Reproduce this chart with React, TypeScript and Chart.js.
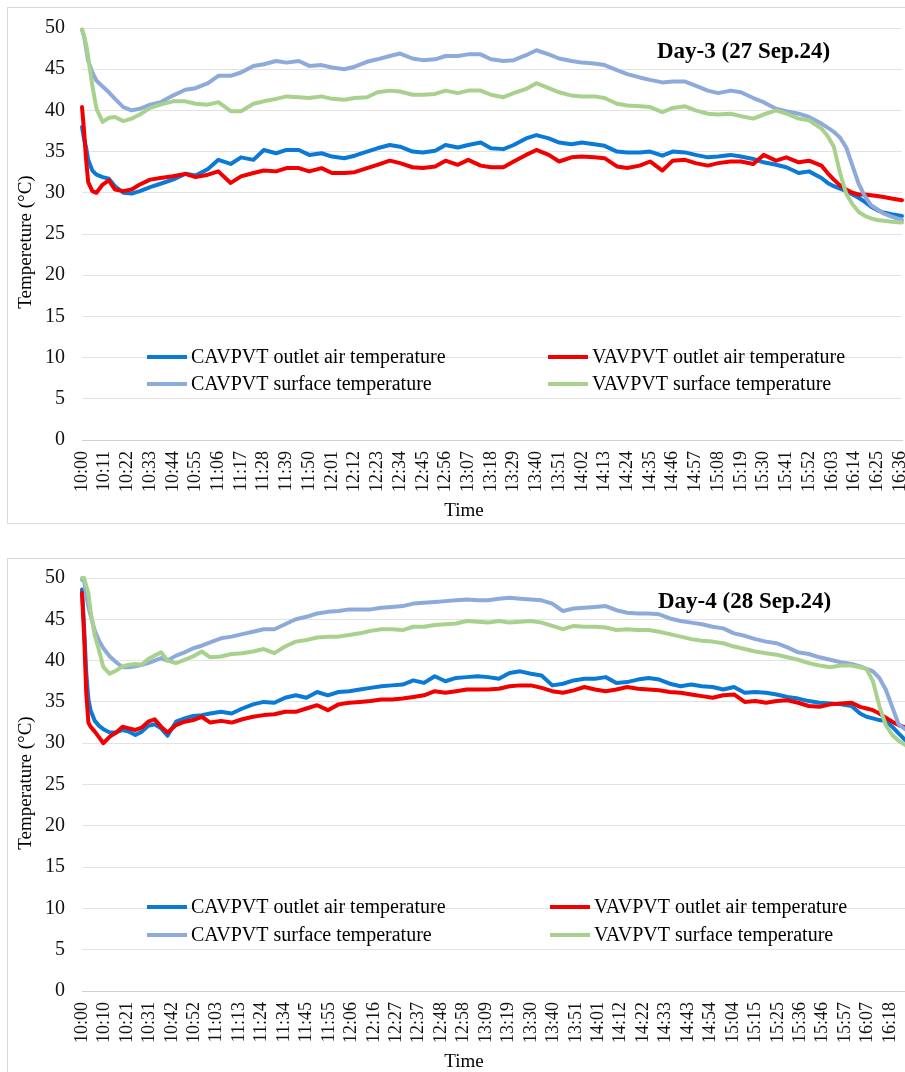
import React, { useEffect, useRef } from "react";
import { Chart, registerables } from "chart.js";

Chart.register(...registerables);

const FONT = '"Liberation Serif", "Times New Roman", Times, serif';

const seriesLabels = [
  "CAVPVT outlet air temperature",
  "VAVPVT outlet air temperature",
  "CAVPVT surface temperature",
  "VAVPVT surface temperature",
];
const seriesColors = ["#0a7ad6", "#f20000", "#8eaadb", "#a9d18e"];

// ---------- Day-3 (27 Sep.24) ----------
const day3Minutes = [
  0, 1, 2, 3, 5, 7, 10, 13, 16, 20,
  24, 28, 33, 38, 44, 50, 55, 61, 66, 72,
  77, 83, 88, 94, 99, 105, 110, 116, 121, 127,
  132, 138, 143, 149, 154, 160, 165, 171, 176, 182,
  187, 193, 198, 204, 209, 215, 220, 226, 231, 237,
  242, 248, 253, 259, 264, 270, 275, 281, 286, 292,
  297, 303, 308, 314, 319, 325, 330, 336, 341, 347,
  352, 358, 361, 364, 367, 370, 373, 376, 379, 382,
  385, 388, 392, 397,
];
const day3CavOutlet = [
  38.0, 36.5, 35.5, 34.0, 32.7, 32.2, 31.9, 31.7, 30.8, 30.0,
  29.9, 30.2, 30.7, 31.1, 31.6, 32.3, 32.1, 32.9, 34.0, 33.5,
  34.3, 34.0, 35.2, 34.8, 35.2, 35.2, 34.6, 34.8, 34.4, 34.2,
  34.5, 35.0, 35.4, 35.8, 35.6, 35.0, 34.9, 35.1, 35.8, 35.5,
  35.8, 36.1, 35.4, 35.3, 35.8, 36.6, 37.0, 36.6, 36.1, 35.9,
  36.1, 35.9, 35.7, 35.0, 34.9, 34.9, 35.0, 34.5, 35.0, 34.9,
  34.6, 34.3, 34.4, 34.6, 34.4, 34.1, 33.7, 33.4, 33.1, 32.4,
  32.6, 31.8, 31.2, 30.8, 30.5, 30.2, 29.8, 29.4, 28.9, 28.3,
  27.9, 27.6, 27.4, 27.2,
];
const day3VavOutlet = [
  40.4, 37.5, 34.0, 31.3, 30.2, 30.0, 31.0, 31.5, 30.4, 30.2,
  30.4, 31.0, 31.6, 31.8, 32.0, 32.3, 31.9, 32.2, 32.6, 31.2,
  32.0, 32.4, 32.7, 32.6, 33.0, 33.0, 32.6, 33.0, 32.4, 32.4,
  32.5, 33.0, 33.4, 33.9, 33.6, 33.1, 33.0, 33.2, 33.9, 33.4,
  34.0, 33.3, 33.1, 33.1, 33.8, 34.6, 35.2, 34.6, 33.8, 34.3,
  34.4, 34.3, 34.2, 33.2, 33.0, 33.3, 33.8, 32.7, 33.9, 34.0,
  33.6, 33.3, 33.6, 33.8, 33.8, 33.5, 34.6, 33.9, 34.3, 33.7,
  33.9, 33.3, 32.4, 31.6, 30.9, 30.4, 30.0, 29.8, 29.8, 29.7,
  29.6, 29.5, 29.3, 29.1,
];
const day3CavSurface = [
  49.8, 49.0, 47.5, 46.0, 44.6, 43.6, 42.9, 42.2, 41.4, 40.4,
  40.0, 40.2, 40.7, 41.0, 41.8, 42.5, 42.7, 43.3, 44.2, 44.2,
  44.6, 45.4, 45.6, 46.0, 45.8, 46.0, 45.4, 45.5, 45.2, 45.0,
  45.3, 45.9, 46.2, 46.6, 46.9, 46.3, 46.1, 46.2, 46.6, 46.6,
  46.8, 46.8, 46.2, 46.0, 46.1, 46.7, 47.3, 46.8, 46.3, 46.0,
  45.8, 45.7, 45.5, 44.9, 44.4, 44.0, 43.7, 43.4, 43.5, 43.5,
  43.0, 42.4, 42.1, 42.4, 42.2, 41.5, 41.0, 40.2, 39.9, 39.6,
  39.2, 38.4, 37.9, 37.4, 36.7, 35.5, 33.3, 31.1, 29.6, 28.5,
  28.0, 27.5, 27.1, 26.7,
];
const day3VavSurface = [
  49.8, 49.0, 48.0, 46.5, 43.0, 40.2, 38.6, 39.1, 39.2, 38.7,
  39.0, 39.5, 40.3, 40.7, 41.1, 41.1, 40.8, 40.7, 41.0, 39.9,
  39.9, 40.8, 41.1, 41.4, 41.7, 41.6, 41.5, 41.7, 41.4, 41.3,
  41.5, 41.6, 42.2, 42.4, 42.3, 41.9, 41.9, 42.0, 42.4, 42.1,
  42.4, 42.4, 41.9, 41.6, 42.1, 42.6, 43.3, 42.7, 42.2, 41.8,
  41.7, 41.7, 41.5, 40.8, 40.6, 40.5, 40.4, 39.8, 40.3, 40.5,
  40.0, 39.6, 39.5, 39.6, 39.3, 39.0, 39.5, 40.0, 39.6, 39.0,
  38.8, 37.8, 36.9, 35.6, 32.4, 29.9, 28.6, 27.7, 27.2, 26.9,
  26.7, 26.6, 26.5, 26.4,
];
const day3TickLabels = [
  "10:00", "10:11", "10:22", "10:33", "10:44", "10:55", "11:06", "11:17", "11:28", "11:39",
  "11:50", "12:01", "12:12", "12:23", "12:34", "12:45", "12:56", "13:07", "13:18", "13:29",
  "13:40", "13:51", "14:02", "14:13", "14:24", "14:35", "14:46", "14:57", "15:08", "15:19",
  "15:30", "15:41", "15:52", "16:03", "16:14", "16:25", "16:36",
];

// ---------- Day-4 (28 Sep.24) ----------
const day4Minutes = [
  0, 1, 2, 3, 4, 6, 8, 10, 13, 16,
  19, 22, 25, 28, 31, 34, 37, 40, 44, 48,
  52, 56, 60, 65, 70, 75, 80, 85, 90, 95,
  100, 105, 110, 115, 120, 125, 130, 135, 140, 145,
  150, 155, 160, 165, 170, 175, 180, 185, 190, 195,
  200, 205, 210, 215, 220, 225, 230, 235, 240, 245,
  250, 255, 260, 265, 270, 275, 280, 285, 290, 295,
  300, 305, 310, 315, 320, 325, 330, 335, 340, 345,
  350, 355, 360, 364, 367, 370, 373, 376, 379, 382,
  385,
];
const day4CavOutlet = [
  48.6, 44.0, 38.5, 35.3, 34.0, 32.7, 32.1, 31.7, 31.3, 31.3,
  31.6, 31.4, 31.0, 31.4, 32.1, 32.3, 31.8, 30.9, 32.6, 33.0,
  33.3, 33.4, 33.6, 33.8, 33.6, 34.2, 34.7, 35.0, 34.9, 35.5,
  35.8, 35.5, 36.2, 35.8, 36.2, 36.3, 36.5, 36.7, 36.9, 37.0,
  37.1, 37.6, 37.3, 38.1, 37.5, 37.9, 38.0, 38.1, 38.0, 37.8,
  38.5, 38.7, 38.4, 38.2, 37.0, 37.2, 37.6, 37.8, 37.8, 38.0,
  37.3, 37.4, 37.7, 37.9, 37.7, 37.2, 36.9, 37.1, 36.9, 36.8,
  36.5, 36.8, 36.1, 36.2, 36.1, 35.9, 35.6, 35.4, 35.1, 34.9,
  34.8, 34.7, 34.5, 33.6, 33.2, 33.0, 32.8, 32.7, 32.0, 31.2,
  30.4,
];
const day4VavOutlet = [
  48.2, 43.0, 36.0, 32.5, 32.0, 31.4, 30.7, 30.0, 30.8, 31.3,
  32.0, 31.8, 31.6, 31.9, 32.6, 32.9, 32.0, 31.3, 32.2, 32.6,
  32.8, 33.2, 32.5, 32.7, 32.5, 32.9, 33.2, 33.4, 33.5, 33.8,
  33.8, 34.2, 34.6, 34.0, 34.7, 34.9, 35.0, 35.1, 35.3, 35.3,
  35.4, 35.6, 35.8, 36.3, 36.1, 36.3, 36.5, 36.5, 36.5, 36.6,
  36.9, 37.0, 37.0, 36.7, 36.3, 36.1, 36.4, 36.8, 36.5, 36.3,
  36.5, 36.8, 36.6, 36.5, 36.4, 36.2, 36.1, 35.9, 35.7, 35.5,
  35.8, 35.9, 35.0, 35.1, 34.9, 35.1, 35.2, 34.9, 34.5, 34.4,
  34.7, 34.8, 34.9, 34.4, 34.2, 34.0, 33.6, 33.1, 32.6, 32.2,
  31.9,
];
const day4CavSurface = [
  49.8, 49.6, 48.0, 46.5, 45.5, 43.6, 42.4, 41.5, 40.5, 39.8,
  39.2, 39.2, 39.3, 39.5, 39.7, 40.0, 40.3, 40.0, 40.6, 41.0,
  41.5, 41.8, 42.2, 42.7, 42.9, 43.2, 43.5, 43.8, 43.8, 44.4,
  45.0, 45.3, 45.7, 45.9, 46.0, 46.2, 46.2, 46.2, 46.4, 46.5,
  46.6, 46.9, 47.0, 47.1, 47.2, 47.3, 47.4, 47.3, 47.3, 47.5,
  47.6, 47.5, 47.4, 47.3, 46.9, 46.0, 46.3, 46.4, 46.5, 46.6,
  46.1, 45.8, 45.7, 45.7, 45.6, 45.1, 44.8, 44.6, 44.4, 44.1,
  43.9, 43.3, 43.0, 42.6, 42.3, 42.1, 41.6, 41.0, 40.8, 40.4,
  40.1, 39.8, 39.6, 39.3, 39.0, 38.7, 37.9, 36.5, 34.4, 32.3,
  31.7,
];
const day4VavSurface = [
  50.0, 50.0, 49.0, 48.2, 46.0, 43.0, 41.2, 39.2, 38.4, 38.8,
  39.3, 39.5, 39.6, 39.5, 40.2, 40.6, 41.0, 40.0, 39.7, 40.1,
  40.5, 41.1, 40.4, 40.5, 40.8, 40.9, 41.1, 41.4, 40.9, 41.7,
  42.3, 42.5, 42.8, 42.9, 42.9, 43.1, 43.3, 43.6, 43.8, 43.8,
  43.7, 44.1, 44.1, 44.3, 44.4, 44.5, 44.8, 44.7, 44.6, 44.8,
  44.6, 44.7, 44.8, 44.6, 44.2, 43.8, 44.2, 44.1, 44.1, 44.0,
  43.7, 43.8, 43.7, 43.7, 43.5, 43.2, 42.9, 42.6, 42.4, 42.3,
  42.1, 41.7, 41.4, 41.1, 40.9, 40.7, 40.4, 40.1, 39.7, 39.4,
  39.2, 39.4, 39.4, 39.2, 39.0, 37.5, 34.5, 32.2, 31.0, 30.3,
  29.8,
];
const day4TickLabels = [
  "10:00", "10:10", "10:21", "10:31", "10:42", "10:52", "11:03", "11:13", "11:24", "11:34",
  "11:45", "11:55", "12:06", "12:16", "12:27", "12:37", "12:48", "12:58", "13:09", "13:19",
  "13:30", "13:40", "13:51", "14:01", "14:12", "14:22", "14:33", "14:43", "14:54", "15:04",
  "15:15", "15:25", "15:36", "15:46", "15:57", "16:07", "16:18",
];

type PanelProps = {
  minutes: number[];
  series: number[][];
  tickLabels: string[];
  stepSize: number;
  xMax: number;
  title: string;
  yTitle: string;
  boxTop: number;
  boxHeight: number;
  canvasTop: number;
  canvasHeight: number;
  padTop: number;
  padRight: number;
  xScaleHeight: number;
  titlePos: [number, number];
  yTitleY: number;
  timePos: [number, number];
  legendRows: [number, number];
  legendCols: [number, number];
};

function Panel(p: PanelProps) {
  const ref = useRef<HTMLCanvasElement>(null);

  useEffect(() => {
    const canvas = ref.current;
    if (!canvas) return;

    const datasets = p.series.map((vals, i) => ({
      label: seriesLabels[i],
      data: vals.map((v, k) => ({ x: p.minutes[k], y: v })),
      borderColor: seriesColors[i],
      backgroundColor: seriesColors[i],
      borderWidth: 4,
      pointRadius: 0,
      tension: 0,
      fill: false,
      order: 3 - i,
      clip: false as any,
      borderJoinStyle: "round" as const,
      borderCapStyle: "round" as const,
    }));

    const overlay = {
      id: "overlay",
      afterDraw(chart: any) {
        const ctx = chart.ctx as CanvasRenderingContext2D;
        ctx.save();
        ctx.fillStyle = "#000";
        ctx.textBaseline = "middle";

        // Day title
        ctx.font = `bold 23px ${FONT}`;
        ctx.textAlign = "left";
        ctx.fillText(p.title, p.titlePos[0], p.titlePos[1]);

        // Legend (2 x 2)
        ctx.font = `20px ${FONT}`;
        for (let i = 0; i < 4; i++) {
          const row = i < 2 ? 0 : 1;
          const col = i % 2;
          const lx = p.legendCols[col];
          const ly = p.legendRows[row];
          ctx.strokeStyle = seriesColors[i];
          ctx.lineWidth = 4;
          ctx.lineCap = "butt";
          ctx.beginPath();
          ctx.moveTo(lx, ly);
          ctx.lineTo(lx + 40, ly);
          ctx.stroke();
          ctx.fillText(seriesLabels[i], lx + 44, ly + 1);
        }

        // X axis title
        ctx.font = `19px ${FONT}`;
        ctx.textAlign = "center";
        ctx.fillText("Time", p.timePos[0], p.timePos[1]);

        // Y axis title
        ctx.translate(18, p.yTitleY);
        ctx.rotate(-Math.PI / 2);
        ctx.fillText(p.yTitle, 0, 0);
        ctx.restore();
      },
    };

    const chart = new Chart(canvas, {
      type: "line",
      data: { datasets },
      options: {
        responsive: false,
        animation: false,
        devicePixelRatio: 1,
        events: [],
        layout: { padding: { top: p.padTop, right: p.padRight, left: 0, bottom: 0 } },
        plugins: {
          legend: { display: false },
          title: { display: false },
          tooltip: { enabled: false },
        },
        scales: {
          x: {
            type: "linear",
            min: 0,
            max: p.xMax,
            afterFit: (s: any) => {
              s.height = p.xScaleHeight;
              s.paddingLeft = 0;
              s.paddingRight = 0;
            },
            grid: { display: false, drawTicks: false },
            border: { display: true, color: "#d0d0d0", width: 1 },
            ticks: {
              stepSize: p.stepSize,
              includeBounds: false,
              autoSkip: false,
              maxRotation: 90,
              minRotation: 90,
              padding: 11,
              color: "#111",
              font: { family: FONT, size: 18 },
              callback: (_v: any, i: number) => p.tickLabels[i] ?? "",
            },
          },
          y: {
            min: 0,
            max: 50,
            afterFit: (s: any) => {
              s.width = 74;
              s.paddingTop = 0;
              s.paddingBottom = 0;
            },
            grid: { color: "#e3e3e3", drawTicks: false, lineWidth: 1 },
            border: { display: false },
            ticks: {
              stepSize: 5,
              padding: 17,
              color: "#111",
              font: { family: FONT, size: 20 },
            },
          },
        },
      } as any,
      plugins: [overlay],
    });

    return () => chart.destroy();
  }, []);

  return (
    <>
      <div
        style={{
          position: "absolute",
          left: 7,
          top: p.boxTop,
          width: 1000,
          height: p.boxHeight,
          border: "1px solid #d9d9d9",
          boxSizing: "border-box",
          background: "#fff",
        }}
      />
      <canvas
        ref={ref}
        width={897}
        height={p.canvasHeight}
        style={{
          position: "absolute",
          left: 8,
          top: p.canvasTop,
          width: "897px",
          height: `${p.canvasHeight}px`,
        }}
      />
    </>
  );
}

export default function App() {
  return (
    <div
      style={{
        position: "absolute",
        left: 0,
        top: 0,
        width: 905,
        height: 1072,
        overflow: "hidden",
        background: "#fff",
      }}
    >
      <Panel
        minutes={day3Minutes}
        series={[day3CavOutlet, day3VavOutlet, day3CavSurface, day3VavSurface]}
        tickLabels={day3TickLabels}
        stepSize={11}
        xMax={397}
        title="Day-3 (27 Sep.24)"
        yTitle="Tempereture (°C)"
        boxTop={7}
        boxHeight={517}
        canvasTop={8}
        canvasHeight={515}
        padTop={20}
        padRight={3}
        xScaleHeight={83}
        titlePos={[649, 44]}
        yTitleY={234}
        timePos={[456, 503]}
        legendRows={[349, 376]}
        legendCols={[139, 540]}
      />
      <Panel
        minutes={day4Minutes}
        series={[day4CavOutlet, day4VavOutlet, day4CavSurface, day4VavSurface]}
        tickLabels={day4TickLabels}
        stepSize={10.5}
        xMax={385}
        title="Day-4 (28 Sep.24)"
        yTitle="Temperature (°C)"
        boxTop={558}
        boxHeight={600}
        canvasTop={559}
        canvasHeight={513}
        padTop={19}
        padRight={0}
        xScaleHeight={81}
        titlePos={[650, 43]}
        yTitleY={224}
        timePos={[456, 503]}
        legendRows={[348, 376]}
        legendCols={[139, 542]}
      />
    </div>
  );
}
